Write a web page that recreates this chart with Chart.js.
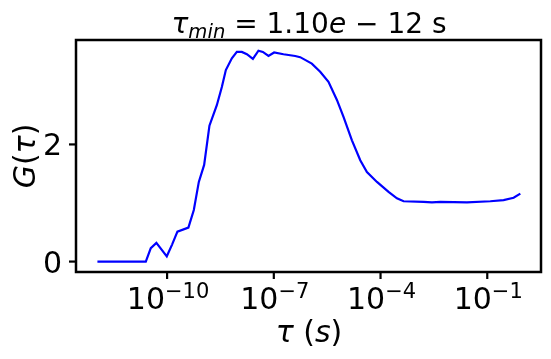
<!DOCTYPE html>
<html><head><meta charset="utf-8">
<script src="https://cdn.jsdelivr.net/npm/chart.js@4"></script>
<style>html,body{margin:0;padding:0;background:#fff}</style>
</head><body>
<canvas id="c" width="551" height="359" style="display:block;width:551px;height:359px"></canvas>
<script>
// ---- data ----
const tauValues = [1.10e-12, 2.52e-11, 3.48e-11, 5.00e-11, 9.8e-11, 1.38e-10, 1.95e-10, 3.97e-10, 5.64e-10, 7.80e-10,
  1.10e-9, 1.55e-9, 2.50e-9, 3.46e-9, 4.48e-9, 6.61e-9, 9.14e-9, 1.26e-8, 1.75e-8, 2.58e-8,
  3.70e-8, 4.92e-8, 7.08e-8, 1.02e-7, 1.87e-7, 3.99e-7, 5.51e-7, 1.17e-6, 2.01e-6, 3.44e-6,
  5.94e-6, 9.10e-6, 1.57e-5, 2.69e-5, 4.14e-5, 7.93e-5, 1.68e-4, 2.89e-4, 4.44e-4, 1.62e-3,
  2.79e-3, 4.78e-3, 2.69e-2, 1.22e-1, 2.88e-1, 5.51e-1, 8.51e-1];
const gValues = [0, 0, 0.23, 0.32, 0.09, 0.29, 0.51, 0.58, 0.88, 1.36,
  1.65, 2.32, 2.67, 2.98, 3.27, 3.47, 3.58, 3.58, 3.54, 3.46,
  3.60, 3.58, 3.51, 3.57, 3.54, 3.51, 3.49, 3.38, 3.24, 3.07,
  2.76, 2.47, 2.07, 1.73, 1.53, 1.36, 1.19, 1.08, 1.03, 1.02,
  1.01, 1.02, 1.01, 1.03, 1.05, 1.09, 1.16];
const xTickExponents = [-10, -7, -4, -1];
const yTickValues = [0, 2];
const xLimits = [2.75e-13, 3.24];
const yLimits = [-0.178, 3.783];
const titleText = {sym: "\u03C4", sub: "min", rest: " = 1.10", e: "e", tail: " \u2212 12", unit: " s"};
const xLabel = {sym: "\u03C4", open: " (", unit: "s", close: ")"};
const yLabel = {g: "G", open: "(", sym: "\u03C4", close: ")"};

const FONT = "'DejaVu Sans'";
const TICK = 30, LABEL = 30, TITLE = 28;

function drawSegs(ctx, segs, x, y, align) {
  let total = 0;
  segs.forEach(s => { ctx.font = (s[2] ? "italic " : "") + s[1] + "px " + FONT; s.w = ctx.measureText(s[0]).width; total += s.w; });
  let cx = align === 'center' ? x - total / 2 : (align === 'right' ? x - total : x);
  ctx.textAlign = 'left';
  segs.forEach(s => { ctx.font = (s[2] ? "italic " : "") + s[1] + "px " + FONT; ctx.fillText(s[0], cx, y + (s[3] || 0)); cx += s.w; });
}

const decor = {
  id: 'decor',
  afterDraw(chart) {
    const ctx = chart.ctx, a = chart.chartArea;
    const xs = chart.scales.x, ys = chart.scales.y;
    ctx.save();
    ctx.strokeStyle = '#000'; ctx.fillStyle = '#000';
    ctx.lineWidth = 2.5;
    ctx.strokeRect(a.left, a.top, a.right - a.left, a.bottom - a.top);
    ctx.lineWidth = 2.2;
    ctx.textBaseline = 'alphabetic';
    xTickExponents.forEach(e => {
      const px = xs.getPixelForValue(Math.pow(10, e));
      ctx.beginPath(); ctx.moveTo(px, a.bottom); ctx.lineTo(px, a.bottom + 7); ctx.stroke();
      drawSegs(ctx, [["10", TICK, false, 0], ["\u2212" + Math.abs(e), TICK * 0.7, false, -10.5]], px + 1, 308.5, 'center');
    });
    yTickValues.forEach(v => {
      const py = ys.getPixelForValue(v);
      ctx.beginPath(); ctx.moveTo(a.left - 7, py); ctx.lineTo(a.left, py); ctx.stroke();
      drawSegs(ctx, [[String(v), TICK, false, 0]], 62, py + 0.3645 * TICK, 'right');
    });
    drawSegs(ctx, [[titleText.sym, TITLE, true, 0], [titleText.sub, TITLE * 0.7, true, 5],
      [titleText.rest, TITLE, false, 0], [titleText.e, TITLE, true, 0], [titleText.tail, TITLE, false, 0],
      [titleText.unit, TITLE, false, 0]], 309, 33, 'center');
    drawSegs(ctx, [[xLabel.sym, LABEL, true, 0], [xLabel.open, LABEL, false, 0], [xLabel.unit, LABEL, true, 0],
      [xLabel.close, LABEL, false, 0]], 309, 342, 'center');
    ctx.translate(35, (a.top + a.bottom) / 2);
    ctx.rotate(-Math.PI / 2);
    drawSegs(ctx, [[yLabel.g, LABEL, true, 0], [yLabel.open, LABEL, false, 0], [yLabel.sym, LABEL, true, 0],
      [yLabel.close, LABEL, false, 0]], 0, 0, 'center');
    ctx.restore();
  }
};

new Chart(document.getElementById('c'), {
  type: 'scatter',
  data: {
    datasets: [{
      data: tauValues.map((t, i) => ({x: t, y: gValues[i]})),
      showLine: true, borderColor: '#0000ff', borderWidth: 2.2, pointRadius: 0, tension: 0, fill: false
    }]
  },
  options: {
    responsive: false, animation: false, devicePixelRatio: 1,
    layout: {padding: {left: 76, top: 40, right: 10, bottom: 87}},
    plugins: {legend: {display: false}, tooltip: {enabled: false}, title: {display: false}},
    scales: {
      x: {type: 'logarithmic', display: false, min: xLimits[0], max: xLimits[1]},
      y: {type: 'linear', display: false, min: yLimits[0], max: yLimits[1]}
    }
  },
  plugins: [decor]
});
</script>
</body></html>
